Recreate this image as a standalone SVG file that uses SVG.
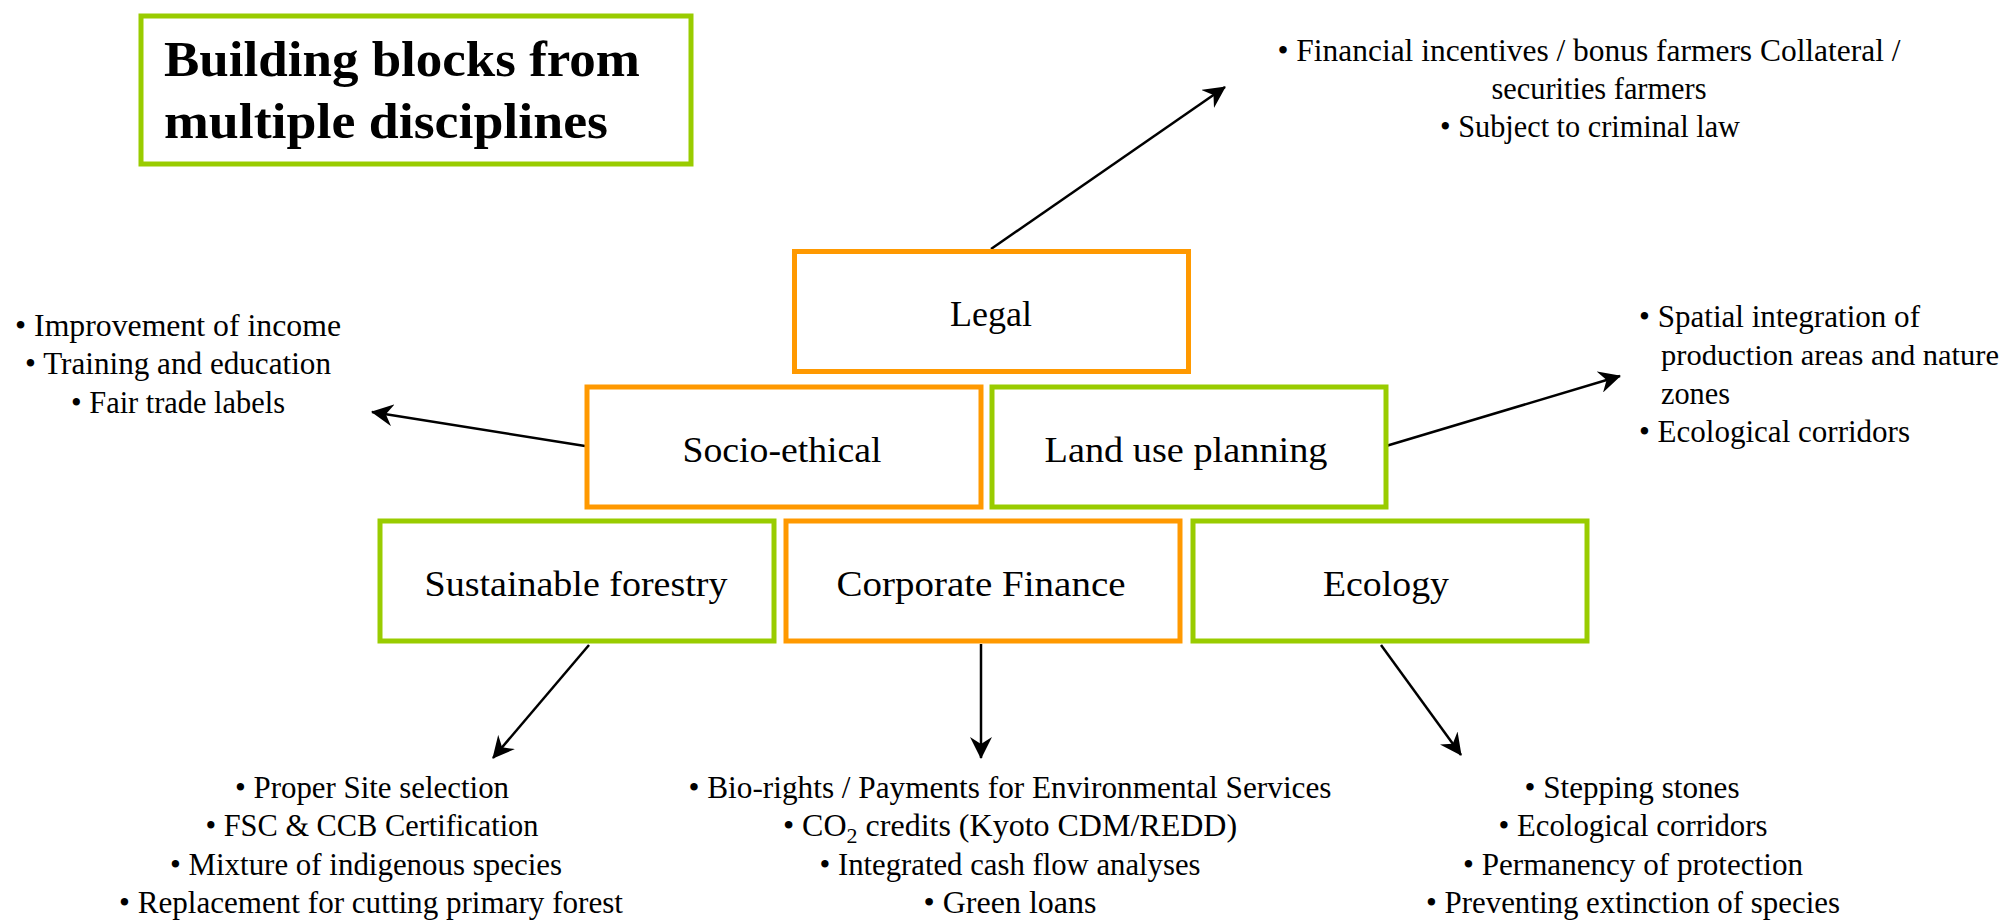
<svg xmlns="http://www.w3.org/2000/svg" width="2011" height="920" viewBox="0 0 2011 920">
<style>
.bg{fill:#ffffff}
.box{fill:#ffffff;stroke-width:5}
.or{stroke:#FF9900}
.gr{stroke:#99CC00}
.lbl{font-family:"Liberation Serif","Times New Roman",serif;font-size:36px;fill:#000;text-anchor:middle}
.bul{font-family:"Liberation Serif","Times New Roman",serif;font-size:32px;fill:#000}
.c{text-anchor:middle}
.title{font-family:"Liberation Serif","Times New Roman",serif;font-size:50px;font-weight:bold;fill:#000}
.con{stroke:#000;stroke-width:2.5;fill:none;marker-end:url(#ah)}
</style>
<defs>
<marker id="ah" markerUnits="userSpaceOnUse" markerWidth="22" markerHeight="22" refX="21" refY="11" orient="auto">
<path d="M0,0 L22,11 L0,22 L7,11 z" fill="#000"/>
</marker>
</defs>
<rect class="bg" x="0" y="0" width="2011" height="920"/>

<g id="title">
<rect class="box gr" x="141" y="16" width="550" height="148"/>
<text class="title" x="164" y="76" textLength="476" lengthAdjust="spacingAndGlyphs">Building blocks from</text>
<text class="title" x="164" y="138" textLength="444" lengthAdjust="spacingAndGlyphs">multiple disciplines</text>
</g>

<g id="connectors">
<line class="con" x1="991" y1="249" x2="1225" y2="87"/>
<line class="con" x1="585" y1="446" x2="372" y2="412"/>
<line class="con" x1="1386" y1="446" x2="1620" y2="376"/>
<line class="con" x1="589" y1="645" x2="493" y2="758"/>
<line class="con" x1="981" y1="644" x2="981" y2="758"/>
<line class="con" x1="1381" y1="645" x2="1461" y2="755"/>
</g>

<g id="legal">
<rect class="box or" x="794.5" y="251.5" width="394" height="120"/>
<text class="lbl" x="991" y="326" textLength="82" lengthAdjust="spacingAndGlyphs">Legal</text>
</g>
<g id="socio-ethical">
<rect class="box or" x="587" y="387" width="394" height="120"/>
<text class="lbl" x="782" y="462" textLength="199" lengthAdjust="spacingAndGlyphs">Socio-ethical</text>
</g>
<g id="land-use-planning">
<rect class="box gr" x="992" y="387" width="394" height="120"/>
<text class="lbl" x="1186" y="462" textLength="283" lengthAdjust="spacingAndGlyphs">Land use planning</text>
</g>
<g id="sustainable-forestry">
<rect class="box gr" x="380" y="521" width="394" height="120"/>
<text class="lbl" x="576" y="596" textLength="303" lengthAdjust="spacingAndGlyphs">Sustainable forestry</text>
</g>
<g id="corporate-finance">
<rect class="box or" x="786" y="521" width="394" height="120"/>
<text class="lbl" x="981" y="596" textLength="289" lengthAdjust="spacingAndGlyphs">Corporate Finance</text>
</g>
<g id="ecology">
<rect class="box gr" x="1193" y="521" width="394" height="120"/>
<text class="lbl" x="1386" y="596" textLength="126" lengthAdjust="spacingAndGlyphs">Ecology</text>
</g>

<g id="legal-notes">
<text class="bul c" x="1589" y="61" textLength="623" lengthAdjust="spacingAndGlyphs">• Financial incentives / bonus farmers Collateral /</text>
<text class="bul c" x="1599" y="99" textLength="215" lengthAdjust="spacingAndGlyphs">securities farmers</text>
<text class="bul c" x="1590" y="137" textLength="300" lengthAdjust="spacingAndGlyphs">• Subject to criminal law</text>
</g>

<g id="socio-notes">
<text class="bul c" x="178" y="336" textLength="326" lengthAdjust="spacingAndGlyphs">• Improvement of income</text>
<text class="bul c" x="178" y="374" textLength="306" lengthAdjust="spacingAndGlyphs">• Training and education</text>
<text class="bul c" x="178" y="413" textLength="214" lengthAdjust="spacingAndGlyphs">• Fair trade labels</text>
</g>

<g id="land-notes">
<text class="bul" x="1639" y="327" textLength="281" lengthAdjust="spacingAndGlyphs">• Spatial integration of</text>
<text class="bul" x="1661" y="365" font-size="30" style="font-size:30px" textLength="338" lengthAdjust="spacingAndGlyphs">production areas and nature</text>
<text class="bul" x="1661" y="404" textLength="69" lengthAdjust="spacingAndGlyphs">zones</text>
<text class="bul" x="1639" y="442" textLength="271" lengthAdjust="spacingAndGlyphs">• Ecological corridors</text>
</g>

<g id="forestry-notes">
<text class="bul c" x="372" y="798" textLength="274" lengthAdjust="spacingAndGlyphs">• Proper Site selection</text>
<text class="bul c" x="372" y="836" textLength="333" lengthAdjust="spacingAndGlyphs">• FSC &amp; CCB Certification</text>
<text class="bul c" x="366" y="875" textLength="392" lengthAdjust="spacingAndGlyphs">• Mixture of indigenous species</text>
<text class="bul c" x="371" y="913" textLength="504" lengthAdjust="spacingAndGlyphs">• Replacement for cutting primary forest</text>
</g>

<g id="finance-notes">
<text class="bul c" x="1010" y="798" textLength="643" lengthAdjust="spacingAndGlyphs">• Bio-rights / Payments for Environmental Services</text>
<text class="bul c" x="1010" y="836">• CO<tspan font-size="22" dy="7">2</tspan><tspan dy="-7"> credits (Kyoto CDM/REDD)</tspan></text>
<text class="bul c" x="1010" y="875" textLength="381" lengthAdjust="spacingAndGlyphs">• Integrated cash flow analyses</text>
<text class="bul c" x="1010" y="913" textLength="173" lengthAdjust="spacingAndGlyphs">• Green loans</text>
</g>

<g id="ecology-notes">
<text class="bul c" x="1632" y="798" textLength="215" lengthAdjust="spacingAndGlyphs">• Stepping stones</text>
<text class="bul c" x="1633" y="836" textLength="269" lengthAdjust="spacingAndGlyphs">• Ecological corridors</text>
<text class="bul c" x="1633" y="875" textLength="340" lengthAdjust="spacingAndGlyphs">• Permanency of protection</text>
<text class="bul c" x="1633" y="913" textLength="414" lengthAdjust="spacingAndGlyphs">• Preventing extinction of species</text>
</g>
</svg>
